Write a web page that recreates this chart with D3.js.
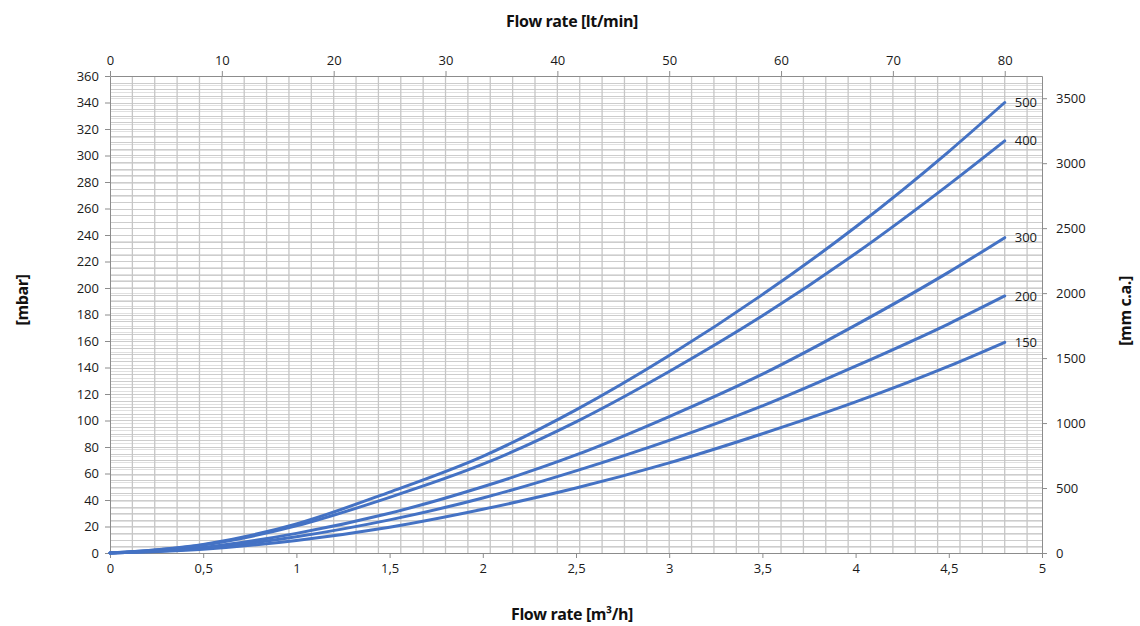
<!DOCTYPE html>
<html><head><meta charset="utf-8">
<script src="https://cdn.jsdelivr.net/npm/d3@7"></script>
<style>
html,body{margin:0;padding:0;background:#fff;}
svg text{font-family:"Open Sans",sans-serif;}
</style></head>
<body><svg id="c" width="1140" height="626"></svg>
<script>
const flowM3h = [0, 0.5, 1, 1.5, 2, 2.5, 3, 3.5, 4, 4.5, 4.8];
const seriesNames = ["500", "400", "300", "200", "150"];
const s500 = [0, 6.5, 22, 46, 73, 108, 149, 195, 246, 303, 340];
const s400 = [0, 6, 20.5, 42, 67, 99, 137, 179, 226, 278, 311];
const s300 = [0, 4.2, 14.8, 30, 50, 74, 103, 135, 172, 212, 238];
const s200 = [0, 3.6, 12.3, 25, 41.5, 62, 85, 111, 141, 173, 194];
const s150 = [0, 2.8, 9.5, 19.5, 33, 49, 68, 90, 114, 141, 159];
const bottomTicks = [0, 0.5, 1, 1.5, 2, 2.5, 3, 3.5, 4, 4.5, 5];
const bottomTickLabels = ["0","0,5","1","1,5","2","2,5","3","3,5","4","4,5","5"];
const topTicks = [0, 10, 20, 30, 40, 50, 60, 70, 80];
const leftTicks = [0,20,40,60,80,100,120,140,160,180,200,220,240,260,280,300,320,340,360];
const rightTicks = [0, 500, 1000, 1500, 2000, 2500, 3000, 3500];

const seriesValues = [s500, s400, s300, s200, s150];
const svg = d3.select("#c");
const L = 110, R = 1042, T = 76, B = 553;
const x = d3.scaleLinear().domain([0, 5]).range([L, R]);
const xTop = d3.scaleLinear().domain([0, 5 * 1000 / 60]).range([L, R]);
const y = d3.scaleLinear().domain([0, 360]).range([B, T]);
const yR = d3.scaleLinear().domain([0, 360 / 0.0980665]).range([B, T]);

const grid = svg.append("g");
grid.selectAll("line.hs").data(d3.range(50, 3650, 50)).join("line")
  .attr("x1", L).attr("x2", R).attr("y1", d => Math.round(yR(d)) + 0.5).attr("y2", d => Math.round(yR(d)) + 0.5)
  .attr("stroke", "#e0e0e0").attr("stroke-width", 1);
grid.selectAll("line.hm").data(d3.range(5, 360, 5)).join("line")
  .attr("x1", L).attr("x2", R).attr("y1", d => Math.round(y(d)) + 0.5).attr("y2", d => Math.round(y(d)) + 0.5)
  .attr("stroke", "#cdcdcd").attr("stroke-width", 1);
grid.selectAll("line.v").data(d3.range(2, 83, 2)).join("line")
  .attr("y1", T).attr("y2", B).attr("x1", d => xTop(d)).attr("x2", d => xTop(d))
  .attr("stroke", "#c6c6c6").attr("stroke-width", 1.3);

const axisColor = "#8c8c8c";
const fmt = (ax) => ax.selectAll("text").attr("font-size", 13).attr("fill", "#1a1a1a").attr("font-family", "Open Sans");
const styleAxis = g => { g.select(".domain").attr("stroke", axisColor); g.selectAll(".tick line").attr("stroke", axisColor); fmt(g); };

svg.append("g").attr("transform", `translate(0,${B})`)
  .call(d3.axisBottom(x).tickValues(bottomTicks).tickFormat((d,i) => bottomTickLabels[i]).tickSize(5).tickSizeOuter(0).tickPadding(6))
  .call(styleAxis);
svg.append("g").attr("transform", `translate(0,${T})`)
  .call(d3.axisTop(xTop).tickValues(topTicks).tickFormat(d3.format("d")).tickSize(5).tickSizeOuter(0).tickPadding(6))
  .call(styleAxis);
svg.append("g").attr("transform", `translate(${L},0)`)
  .call(d3.axisLeft(y).tickValues(leftTicks).tickFormat(d3.format("d")).tickSize(5).tickSizeOuter(0).tickPadding(6))
  .call(styleAxis);
svg.append("g").attr("transform", `translate(${R},0)`)
  .call(d3.axisRight(yR).tickValues(rightTicks).tickFormat(d3.format("d")).tickSize(5).tickSizeOuter(0).tickPadding(9))
  .call(styleAxis);

const line = d3.line().x((d, i) => x(flowM3h[i])).y(d => y(d)).curve(d3.curveMonotoneX);
svg.append("g").selectAll("path").data(seriesValues).join("path")
  .attr("d", d => line(d)).attr("fill", "none").attr("stroke", "#4472C4").attr("stroke-width", 3)
  .attr("stroke-linecap", "round");

svg.append("g").selectAll("text").data(seriesValues).join("text")
  .attr("x", x(flowM3h[flowM3h.length - 1]) + 10)
  .attr("y", d => y(d[d.length - 1]))
  .attr("dy", "0.35em")
  .attr("font-size", 13).attr("fill", "#1a1a1a")
  .text((d, i) => seriesNames[i]);

const titleFont = "Roboto";
const title = (sel) => sel.attr("font-family", titleFont).attr("font-weight", 700).attr("font-size", 16)
  .attr("letter-spacing", -0.4).attr("fill", "#111").attr("text-anchor", "middle");
svg.append("text").attr("x", 572).attr("y", 27).call(title).text("Flow rate [lt/min]");
svg.append("text").attr("x", 572).attr("y", 620).call(title).text("Flow rate [m³/h]");
svg.append("text").attr("transform", "translate(28,300) rotate(-90)").call(title).text("[mbar]");
svg.append("text").attr("transform", "translate(1131,311) rotate(-90)").call(title).text("[mm c.a.]");
</script></body></html>
